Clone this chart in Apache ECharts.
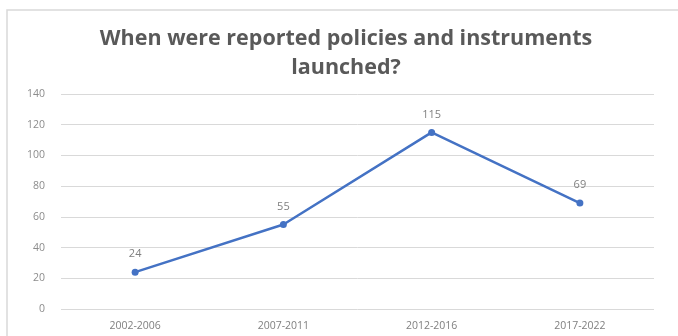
<!DOCTYPE html>
<html>
<head>
<meta charset="utf-8">
<script src="https://cdn.jsdelivr.net/npm/echarts@6/dist/echarts.min.js"></script>
<style>
  html, body { margin: 0; padding: 0; background: #fff; }
  #chart { width: 678px; height: 336px; }
</style>
</head>
<body>
<div id="chart"></div>
<script>
var categories = ["2002-2006", "2007-2011", "2012-2016", "2017-2022"];
var counts = [24, 55, 115, 69];
var yTicks = [0, 20, 40, 60, 80, 100, 120, 140];

var chart = echarts.init(document.getElementById("chart"));

var option = {
  backgroundColor: "#ffffff",
  animation: false,
  // thin frame like the original chart area
  graphic: [{
    type: "rect",
    shape: { x: 7, y: 10, width: 680, height: 340 },
    style: { fill: "none", stroke: "#d9d9d9", lineWidth: 1.5 },
    silent: true
  }],
  title: {
    text: "When were reported policies and instruments\nlaunched?",
    left: 341,
    textAlign: "center",
    top: 19,
    textStyle: {
      fontFamily: "Open Sans",
      fontSize: 21.5,
      fontWeight: "bold",
      color: "#595959",
      lineHeight: 29
    }
  },
  grid: { left: 61, right: 24, top: 94, bottom: 27 },
  xAxis: {
    type: "category",
    data: categories,
    boundaryGap: true,
    axisLine: { show: false },
    axisTick: { show: false },
    axisLabel: {
      color: "#7f7f7f",
      fontFamily: "Open Sans",
      fontSize: 10.5,
      margin: 12
    }
  },
  yAxis: {
    type: "value",
    min: yTicks[0],
    max: yTicks[yTicks.length - 1],
    interval: 20,
    axisLine: { show: false },
    axisTick: { show: false },
    axisLabel: {
      color: "#8c8c8c",
      fontFamily: "Open Sans",
      fontSize: 10.5,
      margin: 16
    },
    splitLine: { lineStyle: { color: "#d9d9d9", width: 1 } }
  },
  series: [{
    type: "line",
    data: counts,
    symbol: "circle",
    symbolSize: 7,
    lineStyle: { color: "#4472c4", width: 2.5 },
    itemStyle: { color: "#4472c4" },
    label: {
      show: true,
      position: "top",
      distance: 9,
      color: "#7f7f7f",
      fontFamily: "Open Sans",
      fontSize: 11
    }
  }]
};

chart.setOption(option);
</script>
</body>
</html>
